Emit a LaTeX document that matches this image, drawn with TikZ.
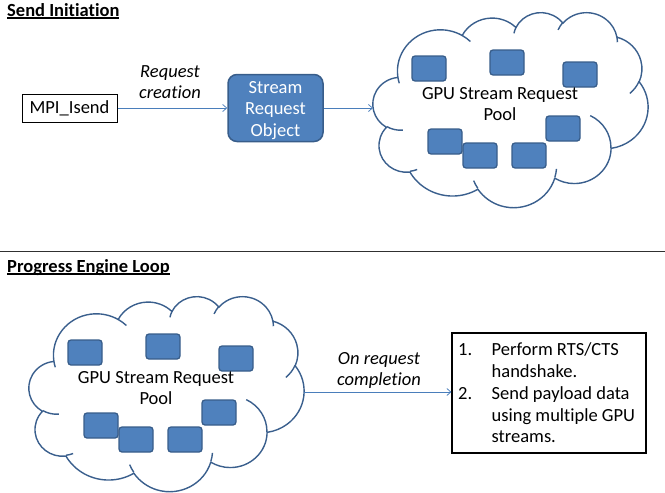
\documentclass[tikz,border=0pt]{standalone}
\usepackage{fontspec}
\setmainfont[Ligatures=NoCommon]{Carlito}
\usetikzlibrary{arrows.meta}

\definecolor{boxfill}{HTML}{4F81BD}
\definecolor{boxline}{HTML}{385D8A}
\definecolor{cloudcol}{HTML}{3A5F8D}
\definecolor{linkcol}{HTML}{4A7EBB}
\definecolor{rulecol}{HTML}{303030}

% elliptic arc given by visual start angle and sweep (degrees)
\newcommand{\cloudarc}[4]{arc[start angle={atan2((#1)*sin(#3),(#2)*cos(#3))},
  delta angle={mod(atan2((#1)*sin((#3)+(#4)),(#2)*cos((#3)+(#4)))-atan2((#1)*sin(#3),(#2)*cos(#3))+720,360)},
  x radius=#1, y radius=#2]}

% bold header with a thin underline just below the baseline
\newcommand{\wordul}[1]{\setbox0=\hbox{#1}\rlap{\rule[-2.6pt]{\wd0}{1.3pt}}\box0}

\tikzset{
  txt/.style={font=\fontsize{18.5}{21.7}\selectfont, inner sep=0pt},
  lbl/.style={font=\fontsize{18.5}{21.7}\selectfont\itshape, inner sep=0pt, align=center},
  hdr/.style={font=\fontsize{18.5}{21.7}\selectfont\bfseries, inner sep=0pt},
  plainbox/.style={txt, draw=black, line width=1pt, minimum width=95, minimum height=28},
  objbox/.style={fill=boxfill, draw=boxline, line width=1.5pt, rounded corners=9,
    minimum width=95, minimum height=67, inner sep=0pt},
  objtext/.style={txt, text=white, align=center},
  poolitem/.style={fill=boxfill, draw=boxline, line width=1.3pt, rounded corners=3,
    minimum width=34, minimum height=25, inner sep=0pt},
  cloudline/.style={draw=cloudcol, line width=1.4pt, line join=round},
  stepsbox/.style={draw=black, line width=1.2pt, minimum width=194, minimum height=120, inner sep=0pt},
  link/.style={draw=linkcol, line width=0.75pt, -{Straight Barb[length=4pt,width=7pt]}},
  sepline/.style={draw=rulecol, line width=1.3pt}
}

% a cloud holding the stream requests; #1 name prefix, (#2,#3) offset
\newcommand{\requestpool}[3]{%
  \begin{scope}[shift={(#2,#3)}]
    \pgfmathsetmacro\poolsx{275/432}%
    \pgfmathsetmacro\poolsy{195/432}%
    \begin{scope}[shift={(373,12)}, x=\poolsx pt, y=-\poolsy pt]
      \draw[cloudline] (39,143.7)
        \cloudarc{67.53}{91.90}{-190.488}{123.781}
        \cloudarc{53.33}{72.67}{-144.102}{89.945}
        \cloudarc{43.65}{59.45}{-145.808}{99.723}
        \cloudarc{48.57}{65.95}{-130.986}{117.242}
        \cloudarc{53.33}{72.73}{-78.709}{109.027}
        \cloudarc{67.75}{92.20}{-46.267}{130.269}
        \cloudarc{57.85}{78.67}{0.625}{114.033}
        \cloudarc{67.52}{92.15}{22.452}{115.173}
        \cloudarc{77.20}{105.43}{66.243}{75.711}
        \cloudarc{43.60}{59.18}{-274.942}{146.736}
        \cloudarc{43.45}{59.45}{-246.829}{152.519}
        -- cycle;
      \draw[cloudline]
        (46.93,261.77) \cloudarc{43.45}{59.45}{86.742}{26.430}
        (69.28,348.99) \cloudarc{43.60}{59.18}{73.610}{11.447}
        (164.78,390.90) \cloudarc{67.52}{92.15}{137.624}{14.081}
        (288.27,347.51) \cloudarc{67.52}{92.15}{6.453}{15.998}
        (341.29,229.54) \cloudarc{57.85}{78.67}{-70.292}{70.917}
        (417.98,153.54) \cloudarc{53.33}{72.73}{30.318}{27.752}
        (383.24,54.26) \cloudarc{48.57}{65.95}{-13.744}{14.859}
        (290.78,39.52) \cloudarc{48.57}{65.95}{-149.181}{18.195}
        (221.41,47.20) \cloudarc{43.65}{59.45}{-163.494}{17.686}
        (140.00,51.92) \cloudarc{67.53}{91.90}{-66.707}{12.319}
        (41.27,157.89) \cloudarc{67.53}{91.90}{157.654}{11.858};
    \end{scope}
    \node[poolitem] (#1-r1) at (429,68.5) {};
    \node[poolitem] (#1-r2) at (507,62.5) {};
    \node[poolitem] (#1-r3) at (580,74.5) {};
    \node[poolitem] (#1-r4) at (563,128.5) {};
    \node[poolitem] (#1-r5) at (445,141.5) {};
    \node[poolitem] (#1-r6) at (480,155.5) {};
    \node[poolitem] (#1-r7) at (529,155.5) {};
    \node[txt, align=center] (#1-label) at (500,104) {GPU Stream Request\\Pool};
    \coordinate (#1-w) at (373,108);
    \coordinate (#1-e) at (648,108);
  \end{scope}}

\begin{document}
\begin{tikzpicture}[x=1pt, y=-1pt]
  \useasboundingbox (0,0) rectangle (665,493);

  % send initiation
  \node[hdr, anchor=base west] (secsend) at (7,16) {\wordul{Send Initiation}};
  \node[plainbox] (isend) at (69.5,108) {MPI\_Isend};
  \node[objbox] (sro) at (275.5,108) {};
  \node[objtext] (srotext) at (275.5,110.5) {Stream\\Request\\Object};
  \node[lbl] (lblcreate) at (170,82) {Request\\creation};
  \requestpool{poolA}{0}{0}
  \draw[link] (isend) -- (sro);
  \draw[link] (sro) -- (poolA-w);

  % divider
  \coordinate (sepL) at (0,251.5);
  \coordinate (sepR) at (665,251.5);
  \draw[sepline] (sepL) -- (sepR);

  % progress engine loop
  \node[hdr, anchor=base west] (secloop) at (7,272) {\wordul{Progress Engine Loop}};
  \requestpool{poolB}{-344}{284}
  \node[stepsbox] (steps) at (549,393) {};
  \node[txt, anchor=west, align=left] (stepstext) at (458,393)
    {\makebox[33.5pt][l]{1.}Perform RTS/CTS\\
     \hspace*{33.5pt}handshake.\\
     \makebox[33.5pt][l]{2.}Send payload data\\
     \hspace*{33.5pt}using multiple GPU\\
     \hspace*{33.5pt}streams.};
  \node[lbl] (lbldone) at (379,370.5) {On request\\completion};
  \draw[link] (poolB-e) -- (poolB-e -| steps.west);
\end{tikzpicture}
\end{document}
